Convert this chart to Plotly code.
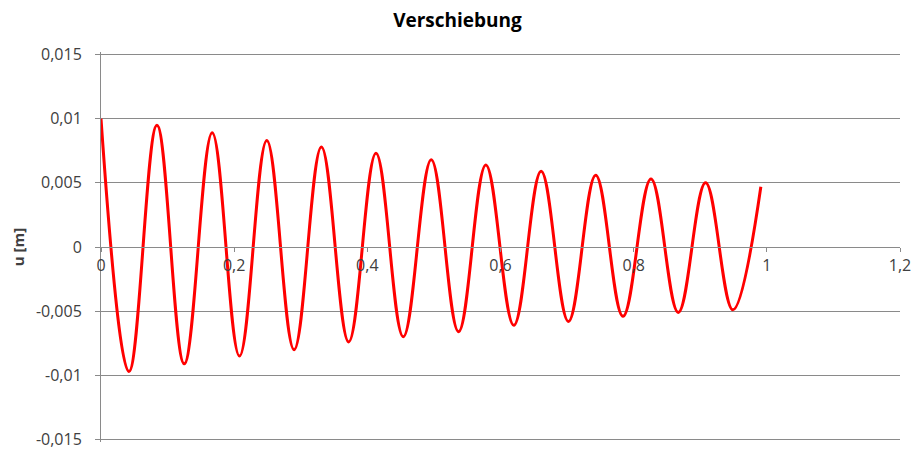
import plotly.graph_objects as go

# time [s] and displacement u [m] at the extrema
time = [0.000, 0.042, 0.084, 0.125, 0.167, 0.208, 0.249, 0.290, 0.331, 0.372,
        0.413, 0.454, 0.496, 0.537, 0.578, 0.620, 0.661, 0.702, 0.743, 0.784,
        0.826, 0.867, 0.908, 0.949, 0.991]
displacement = [0.0100, -0.0097, 0.0095, -0.0091, 0.0089, -0.0085, 0.0083, -0.0080,
                0.0078, -0.0074, 0.0073, -0.0070, 0.0068, -0.0066, 0.0064, -0.0061,
                0.0059, -0.0058, 0.0056, -0.0054, 0.0053, -0.0051, 0.0050, -0.0049,
                0.0047]

x_tick_vals = [0, 0.2, 0.4, 0.6, 0.8, 1.0, 1.2]
x_tick_labels = ["0", "0,2", "0,4", "0,6", "0,8", "1", "1,2"]
y_tick_vals = [-0.015, -0.01, -0.005, 0, 0.005, 0.01, 0.015]
y_tick_labels = ["-0,015", "-0,01", "-0,005", "0", "0,005", "0,01", "0,015"]

FONT = "Open Sans"
TXT = "#404040"
GRID = "#8a8a8a"

W, H = 912, 442  # page body adds an 8px margin inside the 920x450 window

fig = go.Figure()
fig.add_trace(go.Scatter(
    x=time, y=displacement, mode="lines",
    line=dict(color="#ff0000", width=3, shape="spline", smoothing=1.1),
    showlegend=False, hoverinfo="x+y",
))

fig.update_layout(
    width=W, height=H,
    paper_bgcolor="white", plot_bgcolor="white",
    margin=dict(l=93, r=20, t=44, b=8),
    font=dict(family=FONT, size=16, color=TXT),
    title=dict(text="<b>Verschiebung</b>", x=449.5 / W, xanchor="center",
               y=1 - 12.5 / H, yanchor="middle", yref="container",
               font=dict(family=FONT, size=19, color="#000000")),
)

fig.update_xaxes(
    range=[0, 1.2], tickvals=x_tick_vals, ticktext=x_tick_labels,
    showgrid=False, zeroline=False, automargin=False,
    showline=True, linecolor=GRID, linewidth=1,
    anchor="free", position=0.5,
    ticks="outside", ticklen=4, tickcolor=GRID,
    tickfont=dict(family=FONT, size=16, color=TXT),
)
fig.update_yaxes(
    range=[-0.0152, 0.0152], tickvals=y_tick_vals, ticktext=y_tick_labels,
    showgrid=True, gridcolor=GRID, gridwidth=1, zeroline=False, automargin=False,
    showline=True, linecolor=GRID, linewidth=1,
    ticks="outside", ticklen=5, tickcolor=GRID,
    ticklabelstandoff=10, ticklabeloverflow="allow",
    tickfont=dict(family=FONT, size=16, color=TXT),
    title=dict(text="<b>u [m]</b>", font=dict(family=FONT, size=15, color=TXT), standoff=11),
)

fig.write_html("out.html")
